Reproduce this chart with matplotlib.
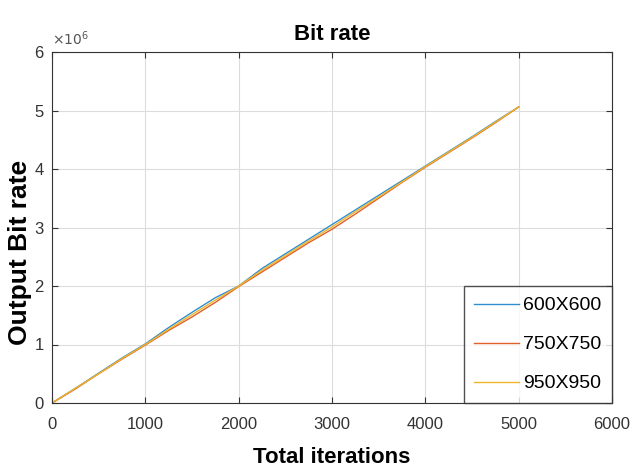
import numpy as np
import matplotlib
matplotlib.use('Agg')
import matplotlib.pyplot as plt
from matplotlib import font_manager

# font: narrow sans like the MATLAB export, if we have it
names = set(f.name for f in font_manager.fontManager.ttflist)
FAMILY = ['Liberation Sans Narrow'] if 'Liberation Sans Narrow' in names else ['Liberation Sans']
plt.rcParams['font.family'] = FAMILY + ['DejaVu Sans']

iterations = [0, 250, 500, 750, 1000, 1250, 1500, 1750, 2000, 2250, 2500,
              2750, 3000, 3250, 3500, 3750, 4000, 4250, 4500, 4750, 5000]
rate_600 = [0.00e6, 0.25e6, 0.51e6, 0.77e6, 1.01e6, 1.29e6, 1.55e6, 1.80e6, 2.00e6, 2.30e6, 2.55e6,
            2.80e6, 3.05e6, 3.30e6, 3.55e6, 3.80e6, 4.05e6, 4.30e6, 4.55e6, 4.81e6, 5.06e6]
rate_750 = [0.00e6, 0.24e6, 0.50e6, 0.75e6, 0.99e6, 1.24e6, 1.47e6, 1.72e6, 1.99e6, 2.24e6, 2.49e6,
            2.74e6, 2.97e6, 3.23e6, 3.50e6, 3.77e6, 4.03e6, 4.28e6, 4.53e6, 4.79e6, 5.06e6]
rate_950 = [0.00e6, 0.25e6, 0.50e6, 0.76e6, 1.00e6, 1.26e6, 1.51e6, 1.76e6, 2.00e6, 2.27e6, 2.52e6,
            2.77e6, 3.01e6, 3.27e6, 3.52e6, 3.78e6, 4.04e6, 4.29e6, 4.54e6, 4.80e6, 5.06e6]
labels = ['600X600', '750X750', '950X950']
colors = ['#2E8FD0', '#E0602C', '#F0B429']

fig = plt.figure(figsize=(6.34, 4.71), dpi=100)
ax = fig.add_axes([52/634, (471-403)/471, 560/634, 351/471])

for y, lab, c in zip([rate_600, rate_750, rate_950], labels, colors):
    ax.plot(iterations, y, color=c, lw=1.0, label=lab)

ax.set_xlim(0, 6000)
ax.set_ylim(0, 6e6)
ax.set_xticks(range(0, 6001, 1000))
ax.set_yticks(np.arange(0, 6.1e6, 1e6))
ax.set_yticklabels([str(i) for i in range(7)])
ax.grid(True, color='#dcdcdc', lw=0.8)
ax.set_axisbelow(True)
ax.tick_params(direction='in', length=4, labelsize=12, colors='#333333', top=True, right=True)
ax.tick_params(axis='x', pad=10)
ax.tick_params(axis='y', pad=6)
for s in ax.spines.values():
    s.set_color('#333333')
    s.set_linewidth(0.8)

ax.text(0.0, 1.01, r'$\times10^6$', transform=ax.transAxes, fontsize=10,
        color='#555555', ha='left', va='bottom')

ax.set_title('Bit rate', fontsize=16, fontweight='bold', pad=9)
ax.set_xlabel('Total iterations', fontsize=16, fontweight='bold')
ax.xaxis.set_label_coords(0.5, -0.125)
ax.set_ylabel('Output Bit rate', fontsize=19, fontweight='bold')
ax.yaxis.set_label_coords(-0.036, 0.43)

leg = ax.legend(loc='lower right', fontsize=14, frameon=True, fancybox=False,
                borderaxespad=0.0, handlelength=2.3, handletextpad=0.2,
                labelspacing=1.1, borderpad=0.55)
leg.get_frame().set_edgecolor('#262626')
leg.get_frame().set_linewidth(1.0)

fig.savefig('out.png', dpi=100)
